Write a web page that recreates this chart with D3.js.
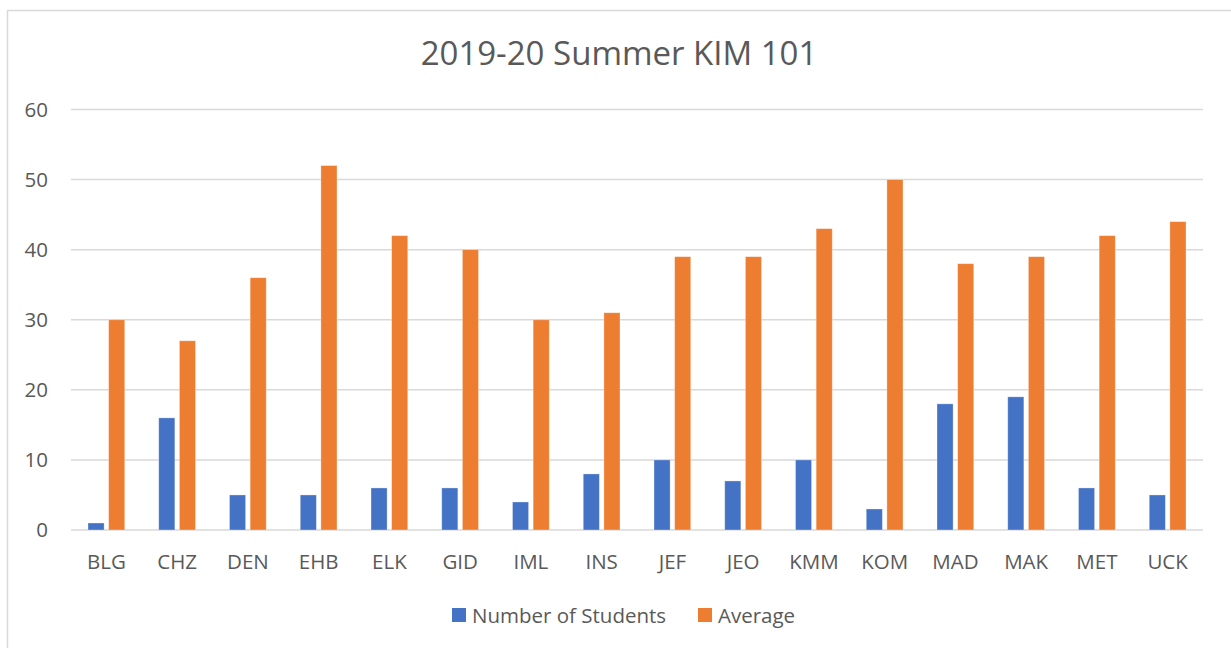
<!DOCTYPE html>
<html>
<head>
<meta charset="utf-8">
<script src="https://cdn.jsdelivr.net/npm/d3@7"></script>
<style>
  body { margin: 0; background: #fff; }
  text { font-family: "Open Sans", "Noto Sans", sans-serif; fill: #595959; }
</style>
</head>
<body>
<div class="canva"></div>
<script>
// chart data
const categories = ["BLG","CHZ","DEN","EHB","ELK","GID","IML","INS","JEF","JEO","KMM","KOM","MAD","MAK","MET","UCK"];
const students = [1,16,5,5,6,6,4,8,10,7,10,3,18,19,6,5];
const average = [30,27,36,52,42,40,30,31,39,39,43,50,38,39,42,44];
const yTicks = [0,10,20,30,40,50,60];
const seriesNames = ["Number of Students", "Average"];
const colors = ["#4472C4", "#ED7D31"];

const W = 1231, H = 648;
const plotLeft = 71, plotRight = 1203, plotTop = 109.5, plotBottom = 530;

const svg = d3.select(".canva").append("svg")
              .attr("width", W)
              .attr("height", H);

// chart border
svg.append("rect")
   .attr("x", 7.5).attr("y", 10.5)
   .attr("width", 1240).attr("height", 660)
   .attr("fill", "#fff")
   .attr("stroke", "#d9d9d9")
   .attr("stroke-width", 1.5);

// title
svg.append("text")
   .text("2019-20 Summer KIM 101")
   .attr("x", 619).attr("y", 65)
   .attr("text-anchor", "middle")
   .attr("font-size", 33);

// scales
const x = d3.scaleBand().domain(categories).range([plotLeft, plotRight]);
const sub = d3.scaleBand().domain([0, 1]).range([17, x.bandwidth() - 17]).paddingInner(0.22);
const y = d3.scaleLinear().domain([0, 60]).range([plotBottom, plotTop]);

// gridlines
svg.append("g").selectAll("line")
   .data(yTicks).enter().append("line")
   .attr("x1", plotLeft).attr("x2", plotRight)
   .attr("y1", d => y(d)).attr("y2", d => y(d))
   .attr("stroke", "#d9d9d9")
   .attr("stroke-width", 1.5);

// y labels
const yAxis = svg.append("g")
   .attr("transform", `translate(${plotLeft - 23},0)`)
   .call(d3.axisLeft(y).tickValues(yTicks).tickSize(0).tickPadding(0));
yAxis.select(".domain").remove();
yAxis.selectAll("text")
   .attr("font-size", 20.5)
   .attr("fill", "#595959")
   .style("font-family", '"Open Sans", "Noto Sans", sans-serif');

// x labels
const xAxis = svg.append("g")
   .attr("transform", `translate(0,${plotBottom})`)
   .call(d3.axisBottom(x).tickSize(0).tickPadding(24));
xAxis.select(".domain").remove();
xAxis.selectAll("text")
   .attr("font-size", 20.5)
   .attr("fill", "#595959")
   .style("font-family", '"Open Sans", "Noto Sans", sans-serif');

// bars
[students, average].forEach((vals, s) => {
  svg.append("g").selectAll("rect")
     .data(vals).enter().append("rect")
     .attr("x", (d, i) => x(categories[i]) + sub(s))
     .attr("width", sub.bandwidth())
     .attr("y", d => y(d))
     .attr("height", d => y(0) - y(d))
     .attr("fill", colors[s])
     .attr("stroke", "#fff")
     .attr("stroke-opacity", 0.4)
     .attr("stroke-width", 0.8);
});

// legend
const legX = [452, 698];
const leg = svg.append("g").selectAll("g")
   .data(seriesNames).enter().append("g")
   .attr("transform", (d, i) => `translate(${legX[i]},608)`);
leg.append("rect")
   .attr("width", 14).attr("height", 14)
   .attr("fill", (d, i) => colors[i]);
leg.append("text")
   .text(d => d)
   .attr("x", 20).attr("y", 14.5)
   .attr("font-size", 20.5);
</script>
</body>
</html>
